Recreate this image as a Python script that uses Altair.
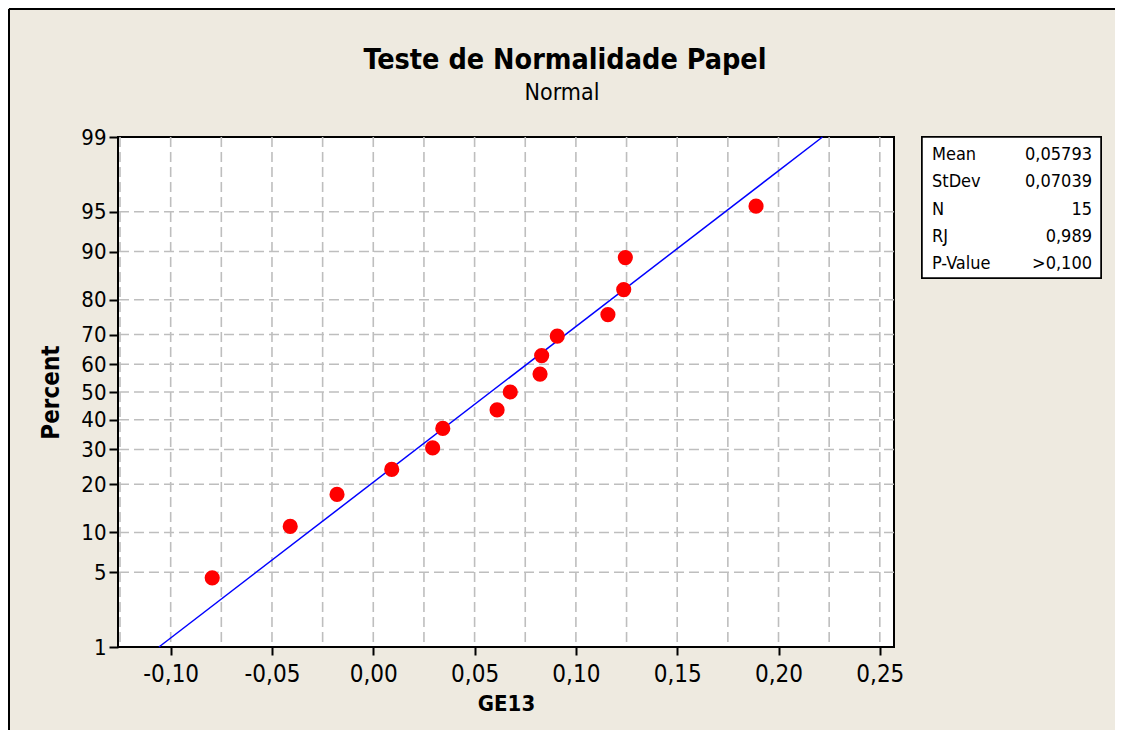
import altair as alt
import pandas as pd
from statistics import NormalDist

# ---- data ----
ge13 = [-0.0795, -0.0410, -0.0179, 0.0091, 0.0293, 0.0343, 0.0611, 0.0676,
        0.0823, 0.0831, 0.0908, 0.1158, 0.1236, 0.1244, 0.1889]
percent = [4.5, 11.0, 17.5, 24.0, 30.5, 37.0, 43.5, 50.0,
           56.5, 63.0, 69.5, 76.0, 82.5, 89.0, 95.5]
fit_x = [-0.1058, 0.2217]
fit_pct = [1, 99]
y_tick_pct = [1, 5, 10, 20, 30, 40, 50, 60, 70, 80, 90, 95, 99]
y_grid_pct = [5, 10, 20, 30, 40, 50, 60, 70, 80, 90, 95]
x_ticks = [-0.10, -0.05, 0.00, 0.05, 0.10, 0.15, 0.20, 0.25]
x_grid = [-0.125, -0.10, -0.075, -0.05, -0.025, 0.0, 0.025, 0.05, 0.075,
          0.10, 0.125, 0.15, 0.175, 0.20, 0.225, 0.25]
stat_labels = ["Mean", "StDev", "N", "RJ", "P-Value"]
stat_values = ["0,05793", "0,07039", "15", "0,989", ">0,100"]
title_text = "Teste de Normalidade Papel"
subtitle_text = "Normal"

nd = NormalDist()
y_tick_z = [nd.inv_cdf(p / 100) for p in y_tick_pct]
zmax = nd.inv_cdf(0.99)

FONT = "DejaVu Sans Condensed"
BG = "#EEEAE0"
GRID = "#BEBEBE"

xscale = alt.Scale(domain=[-0.126, 0.257], nice=False, zero=False)
yscale = alt.Scale(domain=[-zmax, zmax], nice=False, zero=False)

x_axis = alt.Axis(
    values=x_ticks, grid=False, domain=False,
    labelExpr="(datum.value < -0.0001 ? '-' : '') + replace(format(abs(datum.value), '.2f'), '.', ',')",
    tickSize=8, tickWidth=2, tickColor="black",
    labelFontSize=24, labelFont=FONT, labelColor="black", labelPadding=7,
    title="GE13", titleFont=FONT, titleFontSize=22, titleFontWeight="bold",
    titleColor="black", titlePadding=7,
)
y_axis = alt.Axis(
    values=y_tick_z, grid=False, domain=False,
    labelExpr="format(cumulativeNormal(datum.value) * 100, '.0f')",
    tickSize=9, tickWidth=2, tickColor="black",
    labelFontSize=22, labelFont=FONT, labelColor="black", labelPadding=3,
    title="Percent", titleFont=FONT, titleFontSize=24, titleFontWeight="bold",
    titleColor="black", titlePadding=17,
)

pts = pd.DataFrame({"x": ge13, "p": percent})
fit = pd.DataFrame({"x": fit_x, "p": fit_pct})
gx = pd.DataFrame({"x": x_grid})
gy = pd.DataFrame({"p": y_grid_pct})
stats = pd.DataFrame({"label": stat_labels, "value": stat_values,
                      "row": list(range(len(stat_labels)))})
titles = pd.DataFrame({"t": [title_text], "s": [subtitle_text]})

grid_x = alt.Chart(gx).mark_rule(color=GRID, strokeWidth=1.6, strokeDash=[10, 5]).encode(
    x=alt.X("x:Q", scale=xscale, axis=x_axis)
)
grid_y = alt.Chart(gy).transform_calculate(
    z="quantileNormal(datum.p / 100)"
).mark_rule(color=GRID, strokeWidth=1.6, strokeDash=[10, 5]).encode(
    y=alt.Y("z:Q", scale=yscale, axis=None)
)
line = alt.Chart(fit).transform_calculate(
    z="quantileNormal(datum.p / 100)"
).mark_line(color="#0000FF", strokeWidth=1.5).encode(
    x=alt.X("x:Q", scale=xscale, axis=x_axis),
    y=alt.Y("z:Q", scale=yscale, axis=None),
)
points = alt.Chart(pts).transform_calculate(
    z="quantileNormal(datum.p / 100)"
).mark_circle(color="#FF0000", opacity=1, size=230).encode(
    x=alt.X("x:Q", scale=xscale, axis=x_axis),
    y=alt.Y("z:Q", scale=yscale, axis=y_axis),
)

box = alt.Chart(stats).mark_rect(fill="white", stroke="black", strokeWidth=1.5).encode(
    x=alt.value(804), x2=alt.value(983), y=alt.value(0), y2=alt.value(141)
)
row_scale = alt.Scale(domain=[0, 4], range=[18, 127])
lab_text = alt.Chart(stats).mark_text(
    align="left", baseline="middle", font=FONT, fontSize=18, color="black"
).encode(
    x=alt.value(814),
    y=alt.Y("row:Q", scale=row_scale, axis=None),
    text="label:N",
)
val_text = alt.Chart(stats).mark_text(
    align="right", baseline="middle", font=FONT, fontSize=18, color="black"
).encode(
    x=alt.value(974),
    y=alt.Y("row:Q", scale=row_scale, axis=None),
    text="value:N",
)

title_mark = alt.Chart(titles).mark_text(
    align="center", baseline="alphabetic", font=FONT, fontSize=28.5,
    fontWeight="bold", color="black"
).encode(x=alt.value(447), y=alt.value(-68), text="t:N")
subtitle_mark = alt.Chart(titles).mark_text(
    align="center", baseline="alphabetic", font=FONT, fontSize=23, color="black"
).encode(x=alt.value(444), y=alt.value(-37), text="s:N")

frame_left = alt.Chart(stats).mark_rule(color="black", strokeWidth=2).encode(
    x=alt.value(-109), y=alt.value(-128), y2=alt.value(593)
)
frame_top = alt.Chart(stats).mark_rule(color="black", strokeWidth=2).encode(
    x=alt.value(-109), x2=alt.value(997), y=alt.value(-128)
)

chart = alt.layer(
    grid_x, grid_y, line, points, box, lab_text, val_text,
    title_mark, subtitle_mark, frame_left, frame_top
).resolve_scale(
    y="independent"
).properties(
    width=776, height=510,
    background=BG,
    padding={"left": 110, "top": 129, "right": 221, "bottom": 83},
    autosize=alt.AutoSizeParams(type="none"),
).configure_view(
    fill="white", stroke="black", strokeWidth=2
)

chart.save("out.html", embed_options={"renderer": "svg", "actions": False})
